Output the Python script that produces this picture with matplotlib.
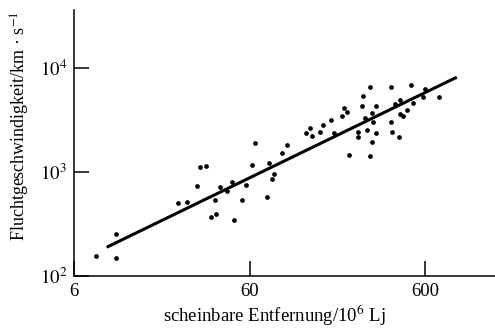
import matplotlib
matplotlib.use("Agg")
import matplotlib.pyplot as plt

# distance (10^6 Lj) and recession velocity (km/s)
dist = [8.01, 10.36, 10.36, 23.5, 26.3, 30.0, 31.5, 33.8, 36.4, 38.5, 38.2, 40.7,
        44.5, 47.5, 48.8, 54.4, 57.3, 62.3, 64.2, 75.5, 77.5, 80.6, 82.8, 92.3,
        98.1, 125.4, 132.7, 136.2, 152.0, 158.1, 174.8, 181.8, 201.1, 208.3, 215.7,
        220.4, 248.1, 250.2, 263.8, 266.1, 271.9, 281.6, 290.3, 291.6, 298.0, 299.3,
        303.3, 315.5, 315.5, 384.1, 385.8, 387.5, 404.8, 426.6, 432.2, 432.2, 451.5,
        471.7, 499.4, 514.9, 587.1, 600.0, 721.1]
vel = [155, 254, 148, 498, 516, 731, 1114, 1131, 370, 390, 540, 710,
       659, 804, 344, 536, 747, 1173, 1897, 573, 1208, 854, 947, 1531,
       1828, 2368, 2666, 2199, 2439, 2828, 3137, 2368, 3428, 4124, 3802,
       1443, 2167, 2421, 4279, 5342, 3328, 2550, 6571, 1422, 1940, 3718,
       3022, 4311, 2368, 3022, 6522, 2404, 4506, 2151, 4924, 3637, 3453,
       3974, 6869, 4573, 5224, 6285, 5264]

fit_x = [9.21, 909.0]
fit_y = [188.9, 8140]

xticks = [6, 60, 600]
xticklabels = ["6", "60", "600"]
yticks = [100, 1000, 10000]
yticklabels = [r"$10^{2}$", r"$10^{3}$", r"$10^{4}$"]

plt.rcParams['font.family'] = ['Liberation Serif', 'DejaVu Serif']
plt.rcParams['mathtext.fontset'] = 'stix'

fig = plt.figure(figsize=(4.95, 3.31), dpi=100)
ax = fig.add_axes([74/495, 55/331, (495-74)/495, (276-10)/331])
ax.set_xscale('log')
ax.set_yscale('log')

ax.plot(fit_x, fit_y, color='black', lw=2.2, solid_capstyle='butt')
ax.plot(dist, vel, 'o', color='black', ms=3.4, mew=0)

for s in ['top', 'right']:
    ax.spines[s].set_visible(False)
for s in ['left', 'bottom']:
    ax.spines[s].set_linewidth(1.1)

ax.set_xticks(xticks, xticklabels)
ax.set_yticks(yticks, yticklabels)
ax.minorticks_off()
ax.set_xlim(6, 1500)
ax.set_ylim(100, 36000)
ax.tick_params(direction='in', length=11, width=1.1, labelsize=13.5, pad=5)

ax.set_xlabel("scheinbare Entfernung/10$^{6}$ Lj", fontsize=13.5)
ax.set_ylabel("Fluchtgeschwindigkeit/km · s$^{-1}$", fontsize=13)
ax.xaxis.set_label_coords(0.475, -0.10)
ax.yaxis.set_label_coords(-0.10, 0.564)

fig.savefig("out.png", dpi=100)
